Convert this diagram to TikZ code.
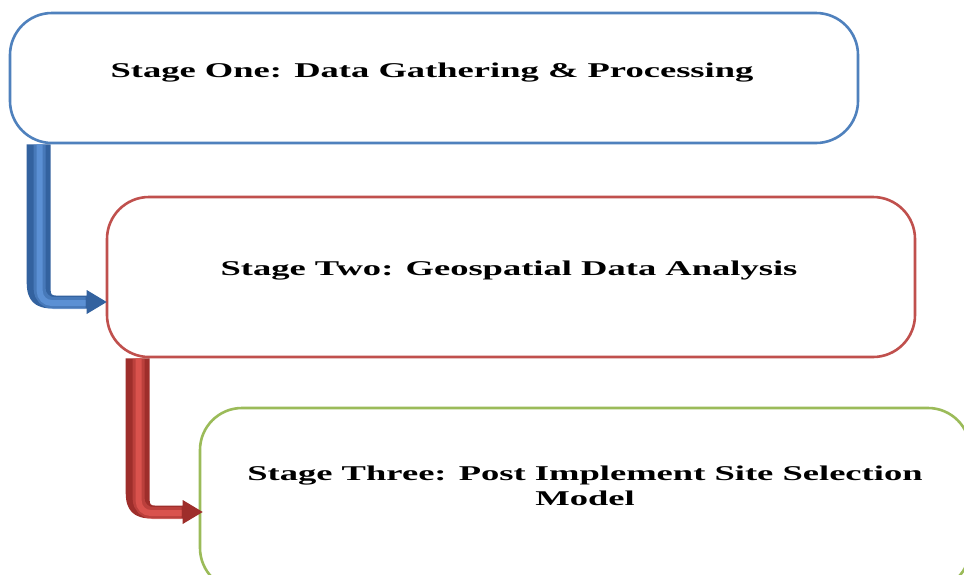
\documentclass[tikz,border=0pt]{standalone}
\usepackage{fontspec}
\setmainfont{Liberation Serif}[FakeStretch=1.74]
\usetikzlibrary{calc}

\definecolor{stageblue}{HTML}{4F81BD}
\definecolor{stagered}{HTML}{C0504D}
\definecolor{stagegreen}{HTML}{9BBB59}
\definecolor{arrowblue}{HTML}{33629F}
\definecolor{arrowbluelight}{HTML}{5B90D4}
\definecolor{arrowred}{HTML}{9E2E2B}
\definecolor{arrowredlight}{HTML}{D9524D}

% Bent block arrow from the top of a shaft (#1) to a tip (#2)
\newcommand{\bentarrow}[4]{%
  \fill[#3] let \p1=(#1), \p2=(#2) in
    (\x1-12pt,\y1) -- (\x1-12pt,\y2-6.5pt+26pt)
    .. controls (\x1-12pt,\y2-6.5pt+8pt) and (\x1-4pt,\y2-6.5pt) .. (\x1+14pt,\y2-6.5pt)
    -- (\x2-20pt,\y2-6.5pt) -- (\x2-20pt,\y2-12pt) -- (\x2,\y2)
    -- (\x2-20pt,\y2+12pt) -- (\x2-20pt,\y2+6.5pt)
    -- (\x1+17pt,\y2+6.5pt)
    .. controls (\x1+13pt,\y2+6.5pt) and (\x1+12pt,\y2+8pt) .. (\x1+12pt,\y2+11.5pt)
    -- (\x1+12pt,\y1) -- cycle;
  \draw[#4, line width=12pt, opacity=0.5, rounded corners=14pt] let \p1=(#1), \p2=(#2) in
    (\x1+1pt,\y1) -- (\x1+1pt,\y2-1pt) -- (\x2-21pt,\y2-1pt);
  \draw[#4, line width=6pt, rounded corners=12pt] let \p1=(#1), \p2=(#2) in
    (\x1+1pt,\y1) -- (\x1+1pt,\y2-1pt) -- (\x2-21pt,\y2-1pt);
}

\tikzset{
  stagebox/.style={line width=2.6pt, rounded corners=42pt, fill=white},
  stagetext/.style={font=\fontsize{21}{25}\selectfont\bfseries, inner sep=0pt, align=center}
}

\begin{document}
\begin{tikzpicture}[x=1pt,y=-1pt]
  \useasboundingbox (0,0) rectangle (964,574);
  \clip (0,0) rectangle (964,574);
  \fill[white] (0,0) rectangle (964,574);

  % stage boxes
  \node[stagebox, draw=stageblue, minimum width=848pt, minimum height=130pt] (b1) at (434,78) {};
  \node[stagebox, draw=stagered, minimum width=808pt, minimum height=160pt] (b2) at (511,277) {};
  \node[stagebox, draw=stagegreen, minimum width=770pt, minimum height=182pt] (b3) at (585,499) {};

  % stage titles
  \node[stagetext, anchor=base] (t1) at (432,77) {Stage One: Data Gathering \& Processing};
  \node[stagetext, anchor=base] (t2) at (509,275) {Stage Two: Geospatial Data Analysis};
  \node[stagetext] (t3) at (585,486) {Stage Three: Post Implement Site Selection\\Model};

  % connectors
  \coordinate (a1s) at ($(b1.south west)+(30,0)$);
  \coordinate (a1e) at ($(b2.west)+(1,25)$);
  \coordinate (a2s) at ($(b2.south west)+(32,0)$);
  \coordinate (a2e) at ($(b3.west)+(4,13)$);
  \bentarrow{a1s}{a1e}{arrowblue}{arrowbluelight}
  \bentarrow{a2s}{a2e}{arrowred}{arrowredlight}
\end{tikzpicture}
\end{document}
